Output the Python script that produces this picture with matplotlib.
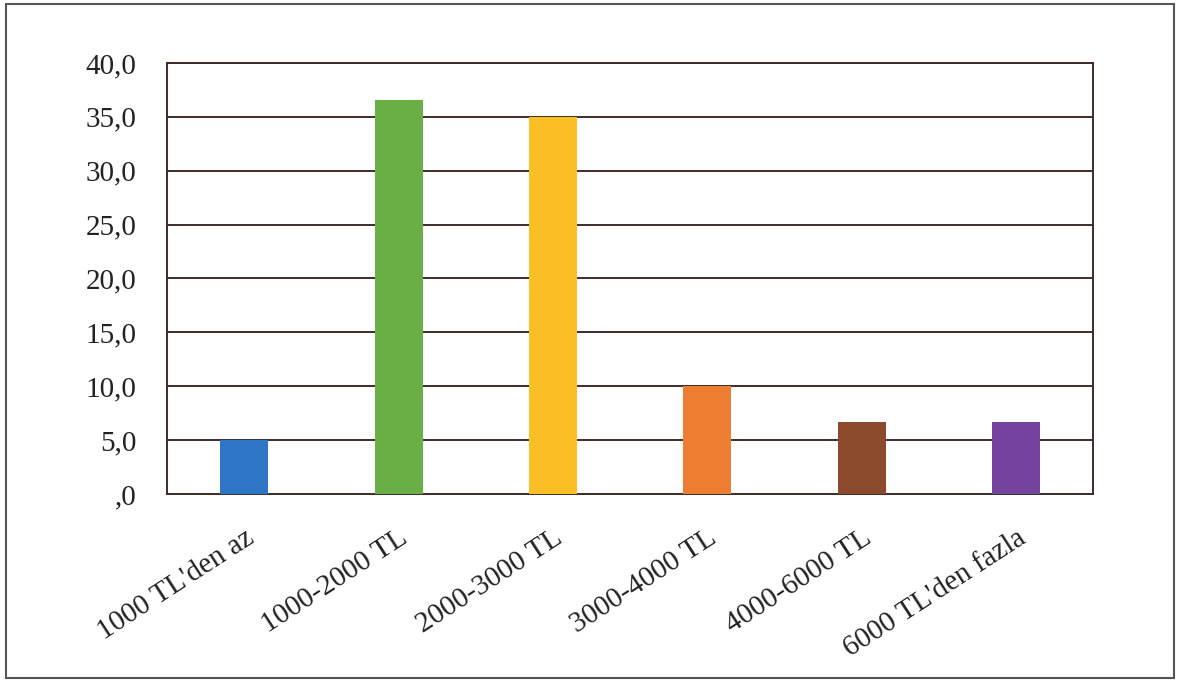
import matplotlib.pyplot as plt
from matplotlib.patches import Rectangle

# Gelir grupları ve yüzdeleri
gruplar = ["1000 TL'den az", "1000-2000 TL", "2000-3000 TL",
           "3000-4000 TL", "4000-6000 TL", "6000 TL'den fazla"]
yuzdeler = [5.0, 36.6, 35.0, 10.0, 6.7, 6.7]
renkler = ['#2e75c6', '#6aaf46', '#fbbf26', '#ed7d31', '#8b4a2b', '#7443a0']
y_tikler = [0, 5, 10, 15, 20, 25, 30, 35, 40]
y_etiketler = [',0', '5,0', '10,0', '15,0', '20,0', '25,0', '30,0', '35,0', '40,0']

plt.rcParams['font.family'] = ['Liberation Serif', 'DejaVu Serif']
cizgi = '#3e2c2a'

fig = plt.figure(figsize=(11.78, 6.8), dpi=100)
ax = fig.add_axes([0.1418, 0.2735, 0.7862, 0.6339])

# çerçeve
fig.patches.append(Rectangle((0.005, 0.003), 0.992, 0.991, transform=fig.transFigure,
                             fill=False, edgecolor='#555555', linewidth=1.5))

ax.bar(range(len(gruplar)), yuzdeler, width=0.31, color=renkler, zorder=3)

ax.set_xlim(-0.5, len(gruplar) - 0.5)
ax.set_ylim(0, 40)
ax.set_yticks(y_tikler)
ax.set_yticklabels(y_etiketler, fontsize=21)
ax.set_xticks(range(len(gruplar)))
ax.set_xticklabels(gruplar, fontsize=21, rotation=33, ha='right', va='top',
                   rotation_mode='anchor')
ax.tick_params(axis='y', length=0, pad=22, colors='#222222')
ax.tick_params(axis='x', length=0, pad=22, colors='#222222')

ax.grid(axis='y', color=cizgi, linewidth=1.4, zorder=1)
for s in ax.spines.values():
    s.set_color(cizgi)
    s.set_linewidth(1.4)

fig.savefig('out.png', dpi=100)
